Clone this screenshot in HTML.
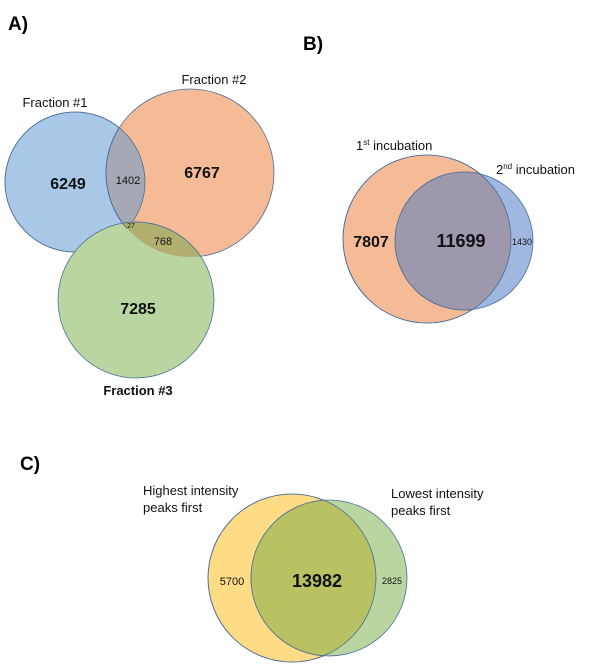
<!DOCTYPE html>
<html><head><meta charset="utf-8"><style>
body{margin:0;background:#fff}
svg{display:block;font-family:"Liberation Sans",sans-serif}
</style></head><body>
<svg width="600" height="672" viewBox="0 0 600 672">
<defs>
<clipPath id="cA1"><circle cx="75" cy="182" r="70"/></clipPath>
<clipPath id="cA2"><circle cx="190" cy="173" r="84"/></clipPath>
<clipPath id="cB1"><circle cx="427" cy="239" r="84"/></clipPath>
<clipPath id="cC1"><circle cx="292" cy="578" r="84"/></clipPath>
</defs>
<g stroke="#4a6e9a" stroke-width="0.8">
<text x="8" y="30" font-size="19" font-weight="bold" stroke="none">A)</text>
<circle cx="75" cy="182" r="70" fill="#a9c8e8"/>
<circle cx="190" cy="173" r="84" fill="#f5bb96"/>
<circle cx="190" cy="173" r="84" fill="#a6a9b4" clip-path="url(#cA1)"/>
<circle cx="75" cy="182" r="70" fill="none"/>
<circle cx="136" cy="300" r="78" fill="#b9d6a0"/>
<circle cx="136" cy="300" r="78" fill="#b2b070" clip-path="url(#cA2)"/>
<circle cx="190" cy="173" r="84" fill="none" clip-path="url(#cA1)"/>
<g stroke="none" text-anchor="middle" fill="#111">
<text x="55" y="107" font-size="13">Fraction #1</text>
<text x="214" y="84" font-size="13">Fraction #2</text>
<text x="138" y="395" font-size="13" font-weight="bold">Fraction #3</text>
<text x="68" y="189" font-size="16" font-weight="bold">6249</text>
<text x="128" y="184" font-size="11">1402</text>
<text x="202" y="178" font-size="16" font-weight="bold">6767</text>
<text x="131" y="228" font-size="7">27</text>
<text x="163" y="245" font-size="11">768</text>
<text x="138" y="314" font-size="16" font-weight="bold">7285</text>
</g></g>
<g stroke="#4a6e9a" stroke-width="0.8">
<text x="303" y="50" font-size="19" font-weight="bold" stroke="none">B)</text>
<circle cx="427" cy="239" r="84" fill="#f5bb96"/>
<circle cx="464" cy="241" r="69" fill="#a0b8df"/>
<circle cx="464" cy="241" r="69" fill="#9d98ac" clip-path="url(#cB1)"/>
<circle cx="427" cy="239" r="84" fill="none"/>
<g stroke="none" fill="#111">
<text x="356" y="150" font-size="13">1<tspan font-size="8" dy="-5">st</tspan><tspan dy="5"> incubation</tspan></text>
<text x="496" y="174" font-size="13">2<tspan font-size="8" dy="-5">nd</tspan><tspan dy="5"> incubation</tspan></text>
<text x="371" y="247" font-size="16" font-weight="bold" text-anchor="middle">7807</text>
<text x="461" y="247" font-size="18" font-weight="bold" text-anchor="middle">11699</text>
<text x="522" y="245" font-size="9" text-anchor="middle">1430</text>
</g></g>
<g stroke="#4a6e9a" stroke-width="0.8">
<text x="20" y="470" font-size="19" font-weight="bold" stroke="none">C)</text>
<circle cx="292" cy="578" r="84" fill="#fedc85"/>
<circle cx="329" cy="578" r="78" fill="#b9d6a0"/>
<circle cx="329" cy="578" r="78" fill="#b8c262" clip-path="url(#cC1)"/>
<circle cx="292" cy="578" r="84" fill="none"/>
<g stroke="none" fill="#111" font-size="13">
<text x="143" y="495">Highest intensity</text>
<text x="143" y="512">peaks first</text>
<text x="391" y="498">Lowest intensity</text>
<text x="391" y="515">peaks first</text>
<text x="232" y="585" font-size="11" text-anchor="middle">5700</text>
<text x="317" y="587" font-size="18" font-weight="bold" text-anchor="middle">13982</text>
<text x="392" y="584" font-size="9" text-anchor="middle">2825</text>
</g></g>
</svg>
</body></html>
